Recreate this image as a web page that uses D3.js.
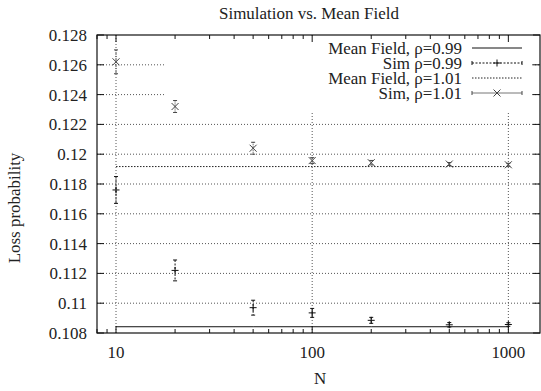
<!DOCTYPE html>
<html>
<head>
<meta charset="utf-8">
<script src="https://cdn.jsdelivr.net/npm/d3@7"></script>
<style>
  body { margin: 0; background: #fff; }
  svg text { fill: #222; }
</style>
</head>
<body>
<svg id="chart" width="541" height="391"></svg>
<script>
// data
var N = [10, 20, 50, 100, 200, 500, 1000];
var meanField099 = [0.10842, 0.10842, 0.10842, 0.10842, 0.10842, 0.10842, 0.10842];
var meanField101 = [0.11917, 0.11917, 0.11917, 0.11917, 0.11917, 0.11917, 0.11917];
var sim099 = [0.1176, 0.1122, 0.1097, 0.10935, 0.10885, 0.10855, 0.10857];
var sim099Err = [0.0009, 0.0007, 0.0005, 0.0003, 0.0002, 0.00015, 0.00012];
var sim101 = [0.1262, 0.1232, 0.1204, 0.11957, 0.11943, 0.11934, 0.11929];
var sim101Err = [0.0008, 0.0004, 0.0004, 0.0002, 0.00015, 0.0001, 0.0001];
var yTicks = [0.108, 0.11, 0.112, 0.114, 0.116, 0.118, 0.12, 0.122, 0.124, 0.126, 0.128];
var xTicks = [10, 100, 1000];
var legendLabels = ['Mean Field, \u03c1=0.99', 'Sim \u03c1=0.99', 'Mean Field, \u03c1=1.01', 'Sim, \u03c1=1.01'];

// pick a serif face that is really installed
function pickFont(svg) {
    var cands = ["'Liberation Serif'", "'Times New Roman'", "'DejaVu Serif'", "'Noto Serif'"];
    var probe = svg.append('text').style('font-size', '40px').text('Simulation vs. Mean Field Wil');
    probe.style('font-family', 'monospace');
    var base = probe.node().getComputedTextLength();
    var found = 'serif';
    for (var i = 0; i < cands.length; i++) {
        probe.style('font-family', cands[i] + ', monospace');
        if (Math.abs(probe.node().getComputedTextLength() - base) > 1) { found = cands[i]; break; }
    }
    // scale so the title gets the reference width of ~180px
    probe.style('font-family', found).style('font-size', '16px').text('Simulation vs. Mean Field');
    var k = 180 / probe.node().getComputedTextLength();
    probe.remove();
    return {fam: found + ', serif', size: 16 * k};
}

function main() {
    var svg = d3.select('#chart');
    var left = 97, right = 540, top = 35, bottom = 333;
    var f = pickFont(svg);
    var fam = f.fam, fs = f.size + 'px';

    var x = d3.scaleLog().domain([8, 1450]).range([left, right]);
    var y = d3.scaleLinear().domain([0.108, 0.128]).range([bottom, top]);

    var minor = [];
    [1, 10, 100, 1000].forEach(function(d) {
        for (var k = 2; k <= 9; k++) if (d * k >= 8 && d * k <= 1450) minor.push(d * k);
    });
    minor = minor.filter(function(v) { return xTicks.indexOf(v) < 0; });

    var g = svg.append('g');

    // grid
    g.selectAll('.gy').data(yTicks.slice(1, -1)).enter().append('line')
     .attr('x1', left).attr('x2', right)
     .attr('y1', function(d) { return y(d); }).attr('y2', function(d) { return y(d); })
     .attr('stroke', '#555').attr('stroke-dasharray', '1,2');
    g.selectAll('.gx').data(xTicks).enter().append('line')
     .attr('x1', function(d) { return x(d); }).attr('x2', function(d) { return x(d); })
     .attr('y1', top).attr('y2', bottom)
     .attr('stroke', '#555').attr('stroke-dasharray', '1,2');

    // key area blanks the grid
    g.append('rect').attr('x', 166).attr('y', top + 1).attr('width', 365).attr('height', 76).attr('fill', '#fff');

    // frame
    g.append('rect').attr('x', left).attr('y', top).attr('width', right - left).attr('height', bottom - top)
     .attr('fill', 'none').attr('stroke', '#111').attr('stroke-width', 1.2);

    // ticks
    yTicks.forEach(function(d) {
        g.append('line').attr('x1', left).attr('x2', left + 7).attr('y1', y(d)).attr('y2', y(d)).attr('stroke', '#111');
        g.append('line').attr('x1', right - 7).attr('x2', right).attr('y1', y(d)).attr('y2', y(d)).attr('stroke', '#111');
        g.append('text').attr('x', 87).attr('y', y(d)).attr('dy', '0.35em').style('font-family', fam)
         .attr('text-anchor', 'end').style('font-size', fs).text(+d.toFixed(3));
    });
    xTicks.forEach(function(d) {
        g.append('line').attr('x1', x(d)).attr('x2', x(d)).attr('y1', bottom).attr('y2', bottom - 7).attr('stroke', '#111');
        g.append('line').attr('x1', x(d)).attr('x2', x(d)).attr('y1', top).attr('y2', top + 7).attr('stroke', '#111');
        g.append('text').attr('x', x(d)).attr('y', 358).attr('text-anchor', 'middle').style('font-family', fam)
         .style('font-size', fs).text(d);
    });
    minor.forEach(function(d) {
        g.append('line').attr('x1', x(d)).attr('x2', x(d)).attr('y1', bottom).attr('y2', bottom - 4).attr('stroke', '#111');
        g.append('line').attr('x1', x(d)).attr('x2', x(d)).attr('y1', top).attr('y2', top + 4).attr('stroke', '#111');
    });

    // labels
    svg.append('text').attr('x', 309).attr('y', 19).attr('text-anchor', 'middle').style('font-family', fam)
     .style('font-size', fs).text('Simulation vs. Mean Field');
    svg.append('text').attr('x', 320).attr('y', 384).attr('text-anchor', 'middle').style('font-family', fam)
     .style('font-size', fs).text('N');
    svg.append('text').attr('transform', 'translate(20,208) rotate(-90)').style('font-family', fam)
     .attr('text-anchor', 'middle').style('font-size', fs).text('Loss probability');

    // mean field lines
    var line = d3.line().x(function(d) { return x(d[0]); }).y(function(d) { return y(d[1]); });
    g.append('path').datum(d3.zip(N, meanField099)).attr('d', line)
     .attr('fill', 'none').attr('stroke', '#111');
    g.append('path').datum(d3.zip(N, meanField101)).attr('d', line)
     .attr('fill', 'none').attr('stroke', '#222').attr('stroke-dasharray', '1.5,1.5');

    // error bars
    function errorBars(vals, errs, color, dash, marker) {
        var pts = N.map(function(n, i) { return {n: n, v: vals[i], e: errs[i]}; });
        var sel = g.append('g').selectAll('g').data(pts).enter().append('g')
         .attr('transform', function(d) { return 'translate(' + x(d.n) + ',0)'; });
        sel.append('line').attr('x1', 0).attr('x2', 0)
         .attr('y1', function(d) { return y(d.v + d.e); }).attr('y2', function(d) { return y(d.v - d.e); })
         .attr('stroke', color).attr('stroke-dasharray', dash);
        sel.append('line').attr('x1', -2).attr('x2', 2)
         .attr('y1', function(d) { return y(d.v + d.e); }).attr('y2', function(d) { return y(d.v + d.e); })
         .attr('stroke', color);
        sel.append('line').attr('x1', -2).attr('x2', 2)
         .attr('y1', function(d) { return y(d.v - d.e); }).attr('y2', function(d) { return y(d.v - d.e); })
         .attr('stroke', color);
        sel.append('path').attr('d', function(d) { return markerPath(marker, 0, y(d.v)); })
         .attr('stroke', color).attr('fill', 'none');
    }
    function markerPath(type, cx, cy) {
        var s = 3.5;
        if (type == 'plus') return 'M' + (cx - s) + ',' + cy + 'H' + (cx + s) + 'M' + cx + ',' + (cy - s) + 'V' + (cy + s);
        return 'M' + (cx - s) + ',' + (cy - s) + 'L' + (cx + s) + ',' + (cy + s) + 'M' + (cx - s) + ',' + (cy + s) + 'L' + (cx + s) + ',' + (cy - s);
    }
    errorBars(sim099, sim099Err, '#111', '2,1.5', 'plus');
    errorBars(sim101, sim101Err, '#444', '1,1', 'cross');

    // key
    var rowY = [48, 63, 78, 93];
    legendLabels.forEach(function(t, i) {
        g.append('text').attr('x', 462).attr('y', rowY[i]).attr('dy', '0.33em').style('font-family', fam)
         .attr('text-anchor', 'end').style('font-size', fs).text(t);
    });
    g.append('line').attr('x1', 472).attr('x2', 522).attr('y1', rowY[0]).attr('y2', rowY[0]).attr('stroke', '#111');
    g.append('line').attr('x1', 472).attr('x2', 522).attr('y1', rowY[1]).attr('y2', rowY[1]).attr('stroke', '#111').attr('stroke-dasharray', '2,1.5');
    g.append('line').attr('x1', 472).attr('x2', 522).attr('y1', rowY[2]).attr('y2', rowY[2]).attr('stroke', '#222').attr('stroke-dasharray', '1.5,1.5');
    g.append('line').attr('x1', 472).attr('x2', 522).attr('y1', rowY[3]).attr('y2', rowY[3]).attr('stroke', '#777');
    [[1, '#111', 'plus'], [3, '#444', 'cross']].forEach(function(k) {
        var yy = rowY[k[0]];
        g.append('path').attr('d', 'M472,' + (yy - 2) + 'V' + (yy + 2) + 'M522,' + (yy - 2) + 'V' + (yy + 2)).attr('stroke', k[1]);
        g.append('path').attr('d', markerPath(k[2], 497, yy)).attr('stroke', k[1]).attr('fill', 'none');
    });
}
main();
</script>
</body>
</html>
